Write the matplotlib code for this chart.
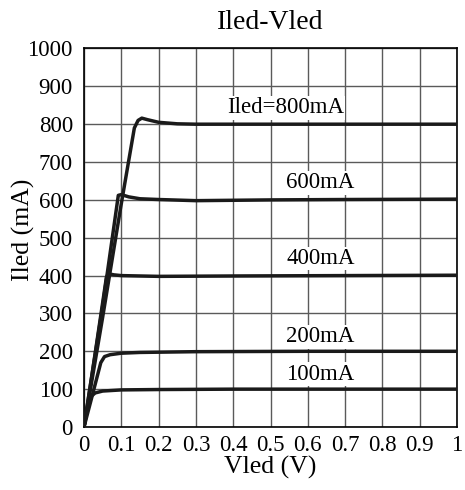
import matplotlib
matplotlib.use("Agg")
import matplotlib.pyplot as plt

plt.rcParams['font.family'] = ['Liberation Serif', 'DejaVu Serif']

# Curves (V, mA)
v_800 = [0.0, 0.05, 0.10, 0.135, 0.145, 0.155, 0.17, 0.20, 0.25, 0.30, 0.50, 0.70, 1.0]
i_800 = [0, 290, 590, 790, 810, 816, 812, 805, 801, 800, 800, 800, 800]
v_600 = [0.0, 0.05, 0.092, 0.10, 0.12, 0.15, 0.20, 0.30, 0.50, 0.70, 1.0]
i_600 = [0, 320, 612, 614, 608, 603, 601, 598, 600, 601, 602]
v_400 = [0.0, 0.03, 0.060, 0.065, 0.08, 0.10, 0.20, 0.40, 0.70, 1.0]
i_400 = [0, 195, 395, 405, 402, 400, 398, 399, 400, 401]
v_200 = [0.0, 0.02, 0.045, 0.055, 0.07, 0.10, 0.15, 0.30, 0.60, 1.0]
i_200 = [0, 75, 170, 186, 191, 195, 197, 199, 200, 200]
v_100 = [0.0, 0.010, 0.018, 0.03, 0.05, 0.10, 0.20, 0.40, 1.0]
i_100 = [0, 50, 80, 90, 95, 98, 99, 100, 100]

labels = ["Iled=800mA", "600mA", "400mA", "200mA", "100mA"]
label_x = [0.54, 0.634, 0.634, 0.634, 0.634]
label_y = [843, 645, 446, 238, 140]

xticks = [0, 0.1, 0.2, 0.3, 0.4, 0.5, 0.6, 0.7, 0.8, 0.9, 1]
xtick_labels = ["0", "0.1", "0.2", "0.3", "0.4", "0.5", "0.6", "0.7", "0.8", "0.9", "1"]
yticks = [0, 100, 200, 300, 400, 500, 600, 700, 800, 900, 1000]

fig = plt.figure(figsize=(4.65, 4.9), dpi=100)
ax = fig.add_axes([84/465, 63/490, 373/465, 378.5/490])

for v, i in [(v_800, i_800), (v_600, i_600), (v_400, i_400), (v_200, i_200), (v_100, i_100)]:
    ax.plot(v, i, color='#1a1a1a', lw=2.5, solid_joinstyle='round', zorder=3)

for t, x, y in zip(labels, label_x, label_y):
    ax.text(x, y, t, ha='center', va='center', fontsize=16.5, zorder=4,
            bbox=dict(boxstyle='square,pad=0.05', fc='white', ec='none'))

ax.set_xlim(0, 1)
ax.set_ylim(0, 1000)
ax.set_xticks(xticks)
ax.set_xticklabels(xtick_labels)
ax.set_yticks(yticks)
ax.tick_params(length=0, labelsize=16.5, pad=8)
ax.tick_params(axis='x', pad=6)
ax.grid(True, color='#5a5a5a', lw=1.0)
for s in ax.spines.values():
    s.set_color('black')
    s.set_linewidth(1.2)
ax.set_xlabel("Vled (V)", fontsize=18.5, labelpad=0)
ax.set_ylabel("Iled (mA)", fontsize=18.5)
ax.yaxis.set_label_coords(-0.131, 0.52)
ax.set_title("Iled-Vled", fontsize=20, pad=14)

fig.savefig("out.png", dpi=100)
